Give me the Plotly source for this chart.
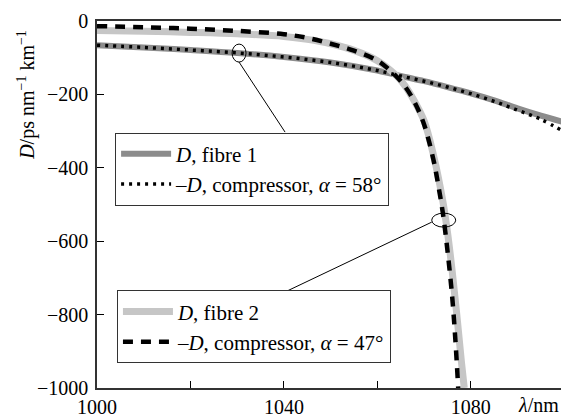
import numpy as np
import plotly.graph_objects as go

# ---- data ----
wl_f1 = [1000, 1010, 1020, 1030, 1040, 1050, 1060, 1065, 1070, 1075, 1080, 1085, 1090, 1095, 1100]
D_f1 = [-66, -72, -79, -87, -98, -113, -135, -150, -164, -180, -197, -216, -238, -258, -276]

wl_c58 = [1000, 1010, 1020, 1030, 1040, 1050, 1060, 1065, 1070, 1075, 1080, 1085, 1090, 1095, 1100]
D_c58 = [-66, -72, -79, -87, -98, -113, -135, -150, -164, -180, -198, -219, -243, -268, -302]

wl_f2 = [1000, 1010, 1020, 1030, 1040, 1045, 1050, 1055, 1060, 1064, 1066, 1068, 1070, 1072, 1074, 1075, 1076, 1077, 1078, 1078.6]
D_f2 = [-26, -28, -31, -35, -42, -50, -62, -80, -108, -148, -178, -220, -272, -365, -490, -575, -680, -800, -930, -1000]

wl_c47 = [1000, 1010, 1020, 1030, 1040, 1045, 1050, 1055, 1060, 1064, 1066, 1068, 1070, 1072, 1073, 1074, 1075, 1076, 1076.7, 1077.3]
D_c47 = [-14, -17, -21, -27, -36, -46, -62, -81, -108, -150, -180, -222, -282, -378, -445, -522, -625, -750, -870, -1000]

x_ticks = [1000, 1040, 1080]
x_tick_text = ["1000", "1040", "1080"]
y_ticks = [0, -200, -400, -600, -800, -1000]
y_tick_text = ["0", "\u2212200", "\u2212400", "\u2212600", "\u2212800", "\u22121000"]

names = ["<i>D</i>, fibre 1",
         "\u2013<i>D</i>, compressor, <i>\u03b1</i> = 58\u00b0",
         "<i>D</i>, fibre 2",
         "\u2013<i>D</i>, compressor, <i>\u03b1</i> = 47\u00b0"]

callout_wl = [1030.4, 1074.2]

FONT = "Liberation Serif, Times New Roman, serif"

fig = go.Figure()
fig.add_trace(go.Scatter(x=wl_f1, y=D_f1, mode="lines", name=names[0], legend="legend",
                         line=dict(color="#8c8c8c", width=6, shape="spline")))
fig.add_trace(go.Scatter(x=wl_f2, y=D_f2, mode="lines", name=names[2], legend="legend2",
                         line=dict(color="#c6c6c6", width=7, shape="spline")))
fig.add_trace(go.Scatter(x=wl_c58, y=D_c58, mode="lines", name=names[1], legend="legend",
                         line=dict(color="black", width=3.5, dash="3px,5px", shape="spline")))
fig.add_trace(go.Scatter(x=wl_c47, y=D_c47, mode="lines", name=names[3], legend="legend2",
                         line=dict(color="black", width=4.5, dash="10px,8px", shape="spline")))

# callout ellipses placed on the curves
c1x = callout_wl[0]
c1y = float(np.interp(c1x, wl_c58, D_c58))
c2x = callout_wl[1]
c2y = float(np.interp(c2x, wl_c47, D_c47))

shapes = [
    dict(type="circle", xref="x", yref="y", xsizemode="pixel", ysizemode="pixel",
         xanchor=c1x, yanchor=c1y, x0=-7, x1=7, y0=-9, y1=9,
         line=dict(color="black", width=1)),
    dict(type="circle", xref="x", yref="y", xsizemode="pixel", ysizemode="pixel",
         xanchor=c2x, yanchor=c2y, x0=-12, x1=12, y0=-7, y1=7,
         line=dict(color="black", width=1)),
    dict(type="line", xref="x", yref="y", xsizemode="pixel", ysizemode="pixel",
         xanchor=c1x, yanchor=c1y, x0=0, y0=-9, x1=46, y1=-79,
         line=dict(color="black", width=1)),
    dict(type="line", xref="x", yref="y", xsizemode="pixel", ysizemode="pixel",
         xanchor=c2x, yanchor=c2y, x0=-12, y0=-2, x1=-159, y1=-72,
         line=dict(color="black", width=1)),
]

legend_common = dict(font=dict(family=FONT, size=21, color="black"),
                     bgcolor="white", bordercolor="#333333", borderwidth=1,
                     xanchor="left", yanchor="top", itemwidth=50,
                     tracegroupgap=0)

fig.update_layout(
    width=561, height=418,
    margin=dict(l=97, r=0, t=21, b=25),
    plot_bgcolor="white", paper_bgcolor="white",
    font=dict(family=FONT, size=20, color="black"),
    shapes=shapes,
    legend=dict(x=0.039, y=0.696, **legend_common),
    legend2=dict(x=0.043, y=0.266, **legend_common),
    xaxis=dict(range=[1000, 1099.3], tickmode="array", tickvals=x_ticks, ticktext=x_tick_text,
               ticks="inside", ticklen=7, tickwidth=1, tickcolor="black",
               minor=dict(dtick=20, tick0=1000, ticks="inside", ticklen=7, tickwidth=1,
                          tickcolor="black", showgrid=False),
               showline=True, linecolor="#333333", linewidth=1.5, mirror=True,
               showgrid=False, zeroline=False, ticklabelstandoff=0,
               tickfont=dict(family=FONT, size=20)),
    yaxis=dict(range=[-1000, 0], tickmode="array", tickvals=y_ticks, ticktext=y_tick_text,
               ticks="inside", ticklen=7, tickwidth=1, tickcolor="black",
               showline=True, linecolor="#333333", linewidth=1.5,
               showgrid=False, zeroline=False, ticklabelstandoff=3,
               tickfont=dict(family=FONT, size=20)),
    annotations=[
        dict(text="<i>D</i>/ps nm<sup>\u22121</sup> km<sup>\u22121</sup>", textangle=-90,
             xref="paper", yref="paper", x=-0.152, y=0.80, xanchor="center", yanchor="middle",
             showarrow=False, font=dict(family=FONT, size=20)),
        dict(text="<i>\u03bb</i>/nm", xref="paper", yref="paper", x=1.0, y=-0.046,
             xanchor="right", yanchor="middle", showarrow=False, font=dict(family=FONT, size=20)),
    ],
)

fig.write_html("out.html")
